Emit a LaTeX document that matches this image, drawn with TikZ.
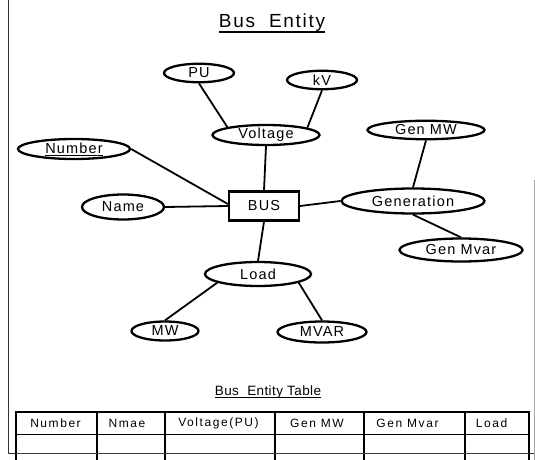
\documentclass[tikz,border=0pt]{standalone}
\usepackage{fontspec}
\setmainfont{Liberation Sans}
\usetikzlibrary{shapes.geometric}
\newfontfamily\nodefont[LetterSpace=8]{Liberation Sans}
\newfontfamily\tabfont[LetterSpace=13]{Liberation Sans}
\newfontfamily\titlefont[LetterSpace=9]{Liberation Sans}
\newfontfamily\ttitlefont[LetterSpace=3]{Liberation Sans}
\begin{document}
\begin{tikzpicture}[x=1pt,y=-1pt,
  attr/.style 2 args={ellipse, draw, line width=2.3pt, inner sep=0pt,
    minimum width=#1pt, minimum height=#2pt,
    font=\nodefont\fontsize{14.5}{14.5}\selectfont},
  entbox/.style={rectangle, draw, line width=2.3pt, inner sep=0pt,
    minimum width=70pt, minimum height=29pt,
    font=\nodefont\fontsize{14.5}{14.5}\selectfont},
  link/.style={line width=1.8pt},
  tabtext/.style={inner sep=0pt, font=\tabfont\fontsize{12}{12}\selectfont},
  framel/.style={line width=0.8pt, black!80},
  thickrule/.style={line width=2.2pt},
  colrule/.style={line width=1.4pt},
  thinrule/.style={line width=0.9pt}]
\useasboundingbox (0,0) rectangle (535,460);

% frame
\draw[framel] (8,0) -- (8,453) -- (535,453);
\draw[line width=0.5pt, black!35] (534,180) -- (534,460);

% title
\node[anchor=base, inner sep=0pt, font=\titlefont\fontsize{19}{19}\selectfont] (title) at (272,28) {Bus\ \ Entity};
\draw[line width=1.3pt] ([yshift=-4pt]title.base west) -- ([yshift=-4pt]title.base east);

% nodes
\node[attr={70}{18.5}] (PU) at (199,73) {PU};
\node[attr={70}{18.5}] (kV) at (322,80) {kV};
\node[attr={107}{20}] (Voltage) at (266,135) {Voltage};
\node[attr={112}{20}] (Number) at (74,149) {\underline{Number}};
\node[attr={117}{18.5}] (GenMW) at (426,130) {Gen MW};
\node[attr={143}{25}] (Generation) at (413,201) {Generation};
\node[attr={82}{25}] (Name) at (123,207) {Name};
\node[entbox] (BUS) at (264,206) {BUS};
\node[attr={123}{23}] (GenMvar) at (461,250) {Gen Mvar};
\node[attr={106}{24}] (Load) at (258,274) {Load};
\node[attr={67}{19}] (MW) at (165,331) {MW};
\node[attr={89}{21}] (MVAR) at (322,332) {MVAR};

% connectors
\draw[link] (PU.south) -- (Voltage.north west);
\draw[link] (kV.south) -- (Voltage.10);
\draw[link] (Voltage.south) -- (BUS.north);
\draw[link] (Number.east) -- ([yshift=2pt]BUS.west);
\draw[link] (Name.east) -- (BUS.west);
\draw[link] (BUS.east) -- (Generation.west);
\draw[link] (GenMW.south) -- (Generation.north);
\draw[link] (Generation.south) -- (GenMvar.north);
\draw[link] (BUS.south) -- (Load.north);
\draw[link] (Load.192) -- (MW.north);
\draw[link] (Load.-12) -- (MVAR.north);

% table title
\node[anchor=base, inner sep=0pt, font=\ttitlefont\fontsize{13.5}{13.5}\selectfont] (ttitle) at (268,395) {Bus\ \ Entity Table};
\draw[line width=0.9pt] ([yshift=-2.5pt]ttitle.base west) -- ([yshift=-2.5pt]ttitle.base east);

% table
\draw[thickrule] (16,460) -- (16,412) -- (529,412) -- (529,460);
\foreach \x in {97,165,275,364,465} \draw[colrule] (\x,412) -- (\x,460);
\draw[thinrule] (16,434) -- (529,434);
\draw[thinrule, black!75] (16,453) -- (529,453);

\node[tabtext] (h1) at (55.5,423.5) {Number};
\node[tabtext] (h2) at (127,423.5) {Nmae};
\node[tabtext] (h3) at (218.5,423.5) {Voltage(PU)};
\node[tabtext] (h4) at (317,423.5) {Gen MW};
\node[tabtext] (h5) at (407.5,423.5) {Gen Mvar};
\node[tabtext] (h6) at (491.5,423.5) {Load};
\end{tikzpicture}
\end{document}
